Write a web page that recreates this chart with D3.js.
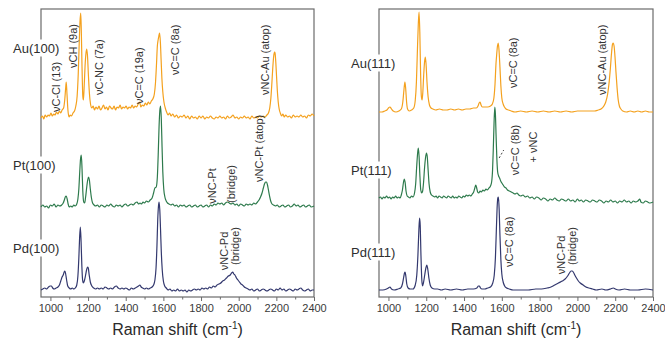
<!DOCTYPE html>
<html>
<head>
<meta charset="utf-8">
<script src="https://cdnjs.cloudflare.com/ajax/libs/d3/7.8.5/d3.min.js"></script>
<style>
  html, body { margin: 0; padding: 0; background: #fff; }
  svg { display: block; }
  svg text { font-family: "Liberation Sans", Arial, Helvetica, sans-serif; }
</style>
</head>
<body>
<svg id="chart" width="665" height="338"></svg>
<script>
// tick values (Raman shift, cm-1)
const xTicks = [1000, 1200, 1400, 1600, 1800, 2000, 2200, 2400];
const minorTicks = [1100, 1300, 1500, 1700, 1900, 2100, 2300];

// sample names per panel
const names100 = ['Au(100)', 'Pt(100)', 'Pd(100)'];
const names111 = ['Au(111)', 'Pt(111)', 'Pd(111)'];

// vertical stacking offsets (intensity units)
const offsets100 = [179, 90, 7];
const offsets111 = [185, 97, 7];

// spectra: [raman shift, intensity above own baseline]
const au100 = [[950,0],[958,2],[965,-1],[972,3],[980,1],[988,3],[995,2],[1003,5],[1010,2],[1018,4],[1025,3],[1032,6],[1040,4],[1048,7],[1055,5],[1062,8],[1070,10],[1076,18],[1081,30],[1084,36],[1088,24],[1093,8],[1099,1],[1105,3],[1112,2],[1120,5],[1128,7],[1135,12],[1142,22],[1148,45],[1153,75],[1157,96],[1161,105],[1164,88],[1168,50],[1172,22],[1175,18],[1179,30],[1184,52],[1189,65],[1193,69],[1197,62],[1202,42],[1207,25],[1213,14],[1220,10],[1227,12],[1234,8],[1242,11],[1250,9],[1258,12],[1266,8],[1274,10],[1282,13],[1290,9],[1298,11],[1306,8],[1314,12],[1322,10],[1330,9],[1338,12],[1346,8],[1354,11],[1362,10],[1370,13],[1378,9],[1386,11],[1394,10],[1402,12],[1410,9],[1418,11],[1426,10],[1434,13],[1442,10],[1450,12],[1458,11],[1466,14],[1474,16],[1480,11],[1488,13],[1496,12],[1504,15],[1512,13],[1520,16],[1528,14],[1536,17],[1544,19],[1552,24],[1558,35],[1563,52],[1568,72],[1572,78],[1576,82],[1580,85],[1584,76],[1588,58],[1592,40],[1597,26],[1603,16],[1610,10],[1617,6],[1625,3],[1633,5],[1641,2],[1650,4],[1660,1],[1670,3],[1680,0],[1690,2],[1700,1],[1710,3],[1720,0],[1730,2],[1740,-1],[1750,2],[1760,0],[1770,1],[1780,-1],[1790,2],[1800,0],[1810,2],[1820,-1],[1830,1],[1840,0],[1850,2],[1860,0],[1870,-1],[1880,1],[1890,0],[1900,2],[1910,0],[1920,1],[1930,-1],[1940,2],[1950,0],[1960,1],[1970,3],[1980,0],[1990,1],[2000,-1],[2010,1],[2020,0],[2030,2],[2040,0],[2050,1],[2060,-1],[2070,2],[2080,0],[2090,1],[2100,0],[2110,2],[2120,1],[2130,2],[2140,1],[2150,3],[2158,5],[2165,10],[2171,20],[2176,34],[2181,50],[2186,62],[2190,66],[2193,65],[2197,56],[2201,42],[2205,28],[2210,16],[2215,9],[2221,5],[2228,2],[2235,4],[2242,1],[2250,3],[2260,1],[2270,2],[2280,0],[2290,3],[2300,1],[2310,2],[2320,1],[2330,3],[2340,1],[2350,2],[2360,0],[2370,3],[2380,2],[2390,4],[2400,2]];

const pt100 = [[950,0],[960,2],[970,0],[980,1],[990,-1],[1000,2],[1010,1],[1020,3],[1030,0],[1040,2],[1050,1],[1060,2],[1068,4],[1074,7],[1079,10],[1084,11],[1089,8],[1094,3],[1100,0],[1108,1],[1116,0],[1124,2],[1132,1],[1140,3],[1146,8],[1151,18],[1156,36],[1160,48],[1164,52],[1168,38],[1172,16],[1177,5],[1182,4],[1187,10],[1193,20],[1198,27],[1203,30],[1207,27],[1212,18],[1218,9],[1224,4],[1232,2],[1240,1],[1250,2],[1260,0],[1270,2],[1280,1],[1290,0],[1300,2],[1310,1],[1320,3],[1330,1],[1340,0],[1350,2],[1360,1],[1370,2],[1380,0],[1390,2],[1400,3],[1410,1],[1420,2],[1430,3],[1440,2],[1450,4],[1460,5],[1468,3],[1476,4],[1484,3],[1492,5],[1500,4],[1510,6],[1520,5],[1530,7],[1540,9],[1548,14],[1555,19],[1562,20],[1568,30],[1573,55],[1577,80],[1581,96],[1585,101],[1589,88],[1593,60],[1597,35],[1602,18],[1608,10],[1615,6],[1622,4],[1630,3],[1640,2],[1650,3],[1660,1],[1670,2],[1680,0],[1690,2],[1700,1],[1710,2],[1720,0],[1730,1],[1740,2],[1750,0],[1760,1],[1770,2],[1780,0],[1790,1],[1800,2],[1810,0],[1820,1],[1830,2],[1840,0],[1850,2],[1860,1],[1870,3],[1880,2],[1890,4],[1900,3],[1910,4],[1920,2],[1930,4],[1940,5],[1950,4],[1960,3],[1970,4],[1980,2],[1990,3],[2000,1],[2010,3],[2020,2],[2030,1],[2040,3],[2050,2],[2060,3],[2070,2],[2080,4],[2090,3],[2100,5],[2108,7],[2116,10],[2124,14],[2131,19],[2137,23],[2143,25],[2148,25],[2153,22],[2158,17],[2164,11],[2170,6],[2177,3],[2185,2],[2195,1],[2205,2],[2215,0],[2225,1],[2235,2],[2245,0],[2255,1],[2265,2],[2275,0],[2285,1],[2295,3],[2305,1],[2315,2],[2325,0],[2335,1],[2345,2],[2355,0],[2365,1],[2375,2],[2385,0],[2400,1]];

const pd100 = [[950,0],[960,1],[970,2],[980,1],[990,3],[998,4],[1005,4],[1012,2],[1020,1],[1030,2],[1040,3],[1048,5],[1055,9],[1062,13],[1068,15],[1073,18],[1077,19],[1081,16],[1086,10],[1092,4],[1100,2],[1108,1],[1116,2],[1124,1],[1132,2],[1140,5],[1146,14],[1151,32],[1155,52],[1159,63],[1163,48],[1167,24],[1171,10],[1175,7],[1180,9],[1186,14],[1192,20],[1197,23],[1201,22],[1206,15],[1212,8],[1220,4],[1230,2],[1240,1],[1250,2],[1260,1],[1270,2],[1280,1],[1290,3],[1300,2],[1310,1],[1320,2],[1330,1],[1340,3],[1350,4],[1360,2],[1370,1],[1380,2],[1390,1],[1400,2],[1410,1],[1420,0],[1430,2],[1440,1],[1450,2],[1460,3],[1468,4],[1475,5],[1482,3],[1490,2],[1500,1],[1510,2],[1520,1],[1530,2],[1540,3],[1548,5],[1555,10],[1561,22],[1566,45],[1570,70],[1574,84],[1577,88],[1581,80],[1585,60],[1589,38],[1594,20],[1600,9],[1607,4],[1615,2],[1625,0],[1635,1],[1645,-1],[1655,0],[1665,-1],[1675,1],[1685,-1],[1695,0],[1705,-1],[1715,0],[1725,-2],[1735,0],[1745,-1],[1755,0],[1765,1],[1775,0],[1785,1],[1795,0],[1805,2],[1815,1],[1825,2],[1835,1],[1845,3],[1855,2],[1865,4],[1875,3],[1885,5],[1895,6],[1905,7],[1915,9],[1925,10],[1935,12],[1945,14],[1955,15],[1962,17],[1968,18],[1974,16],[1980,15],[1988,12],[1996,10],[2004,8],[2012,6],[2020,5],[2030,3],[2040,2],[2050,1],[2060,0],[2070,1],[2080,-1],[2090,0],[2100,1],[2110,-1],[2120,0],[2130,1],[2140,0],[2150,-1],[2160,0],[2170,1],[2180,0],[2190,-1],[2200,1],[2210,0],[2220,2],[2230,0],[2240,1],[2250,-1],[2260,0],[2270,1],[2280,0],[2290,-1],[2300,1],[2310,0],[2320,1],[2330,2],[2340,0],[2350,-1],[2360,0],[2370,1],[2380,-1],[2390,0],[2400,0]];

const au111 = [[950,0],[965,0],[980,1],[992,2],[1000,4],[1008,5],[1016,3],[1025,1],[1040,0],[1055,1],[1068,3],[1076,10],[1082,22],[1087,30],[1091,24],[1096,10],[1101,3],[1110,1],[1122,2],[1134,4],[1142,12],[1148,30],[1153,60],[1158,88],[1162,100],[1166,80],[1170,40],[1174,16],[1178,12],[1182,20],[1186,35],[1191,50],[1195,55],[1199,48],[1204,30],[1210,15],[1217,7],[1225,4],[1235,3],[1250,2],[1270,3],[1290,2],[1310,2],[1330,3],[1350,2],[1370,3],[1390,2],[1410,3],[1430,3],[1450,4],[1465,4],[1474,6],[1480,9],[1485,10],[1490,7],[1497,5],[1510,5],[1525,5],[1540,6],[1550,8],[1558,14],[1564,28],[1569,48],[1573,58],[1577,66],[1581,69],[1585,62],[1590,45],[1595,26],[1600,14],[1607,8],[1614,5],[1622,3],[1635,2],[1650,1],[1670,0],[1700,1],[1730,0],[1760,1],[1790,0],[1820,1],[1850,0],[1880,1],[1910,0],[1940,1],[1970,0],[2000,1],[2030,1],[2060,1],[2090,1],[2110,2],[2125,3],[2140,6],[2150,10],[2160,18],[2168,30],[2175,45],[2181,60],[2186,68],[2190,69],[2194,66],[2199,55],[2204,40],[2210,24],[2216,12],[2222,6],[2230,3],[2240,1],[2260,0],[2280,1],[2300,0],[2320,1],[2340,0],[2360,1],[2380,0],[2400,0]];

const pt111 = [[950,2],[958,3],[966,1],[974,3],[982,2],[990,4],[998,2],[1006,3],[1014,1],[1022,3],[1030,2],[1038,4],[1046,2],[1054,3],[1062,2],[1068,5],[1074,10],[1079,17],[1084,21],[1088,18],[1093,9],[1099,4],[1106,3],[1114,2],[1122,4],[1130,3],[1138,7],[1144,16],[1149,32],[1154,46],[1158,52],[1162,44],[1166,26],[1171,10],[1176,7],[1181,9],[1186,18],[1191,32],[1196,42],[1201,47],[1205,44],[1210,30],[1215,16],[1221,8],[1228,5],[1236,4],[1244,3],[1252,4],[1260,2],[1268,4],[1276,3],[1284,2],[1292,4],[1300,3],[1308,2],[1316,4],[1324,3],[1332,2],[1340,4],[1348,2],[1356,3],[1364,2],[1372,4],[1380,3],[1388,2],[1396,4],[1404,3],[1412,5],[1420,4],[1428,5],[1436,4],[1444,6],[1451,8],[1457,12],[1462,15],[1467,12],[1472,8],[1478,7],[1485,9],[1492,8],[1500,10],[1508,9],[1516,11],[1524,10],[1532,12],[1540,14],[1546,18],[1551,30],[1555,52],[1559,78],[1563,93],[1566,86],[1570,62],[1574,40],[1578,28],[1583,24],[1588,22],[1594,19],[1600,17],[1607,15],[1614,13],[1622,12],[1630,10],[1640,9],[1650,8],[1660,7],[1670,6],[1680,7],[1690,5],[1700,4],[1712,5],[1724,3],[1736,4],[1748,2],[1760,3],[1772,1],[1784,3],[1796,2],[1808,0],[1820,2],[1832,1],[1844,-1],[1856,1],[1868,0],[1880,2],[1892,0],[1904,-1],[1916,1],[1928,0],[1940,-1],[1952,1],[1964,-1],[1976,0],[1988,-2],[2000,1],[2010,-1],[2020,0],[2032,-2],[2044,0],[2056,-1],[2068,-2],[2080,0],[2092,-1],[2104,-2],[2116,0],[2128,-1],[2140,-3],[2152,-1],[2164,-2],[2176,0],[2188,-2],[2200,-1],[2212,-3],[2224,-1],[2236,-2],[2248,0],[2260,-2],[2272,-1],[2284,-3],[2296,-1],[2308,-2],[2320,-1],[2330,1],[2336,-2],[2348,-3],[2360,-1],[2372,-2],[2384,-3],[2400,-2]];

const pd111 = [[950,0],[970,0],[990,1],[1000,2],[1008,3],[1016,1],[1030,0],[1050,1],[1065,2],[1074,6],[1080,12],[1085,17],[1088,18],[1092,14],[1097,6],[1104,2],[1115,1],[1130,1],[1142,5],[1150,15],[1156,35],[1161,60],[1165,72],[1168,65],[1172,35],[1176,12],[1180,4],[1185,7],[1192,15],[1198,22],[1203,25],[1208,21],[1214,12],[1221,5],[1230,2],[1245,1],[1260,1],[1280,0],[1300,1],[1330,0],[1360,1],[1390,0],[1420,1],[1450,1],[1468,2],[1476,4],[1481,4],[1487,2],[1495,1],[1510,1],[1525,2],[1540,3],[1552,7],[1560,15],[1566,32],[1571,60],[1575,82],[1579,92],[1582,93],[1586,80],[1590,55],[1595,30],[1600,16],[1607,8],[1615,4],[1625,2],[1640,1],[1660,0],[1700,0],[1740,0],[1780,1],[1810,1],[1840,2],[1860,3],[1880,5],[1900,7],[1920,9],[1935,11],[1948,14],[1958,17],[1966,19],[1972,19],[1978,18],[1986,15],[1995,12],[2005,9],[2015,7],[2030,5],[2045,3],[2060,2],[2080,1],[2100,0],[2130,1],[2150,0],[2175,1],[2190,2],[2200,1],[2220,0],[2250,1],[2280,0],[2320,0],[2360,1],[2400,0]];

const colors = ['#f4a11e', '#2d7a4c', '#33386e'];

// band assignments: text, shift (cm-1), height (intensity units), anchor
const notes100 = [
  { t: 'νC-Cl (13)', x: 1030, y: 185, a: 'start' },
  { t: 'νCH (9a)', x: 1120, y: 229, a: 'start' },
  { t: 'νC-NC (7a)', x: 1258, y: 202, a: 'start' },
  { t: 'νC=C (19a)', x: 1468, y: 193, a: 'start' },
  { t: 'νC=C (8a)', x: 1660, y: 222, a: 'start' },
  { t: 'νNC-Au (atop)', x: 2140, y: 202, a: 'start' },
  { t: 'νNC-Pt', x: 1858, y: 111, a: 'middle' },
  { t: '(bridge)', x: 1959, y: 113, a: 'middle' },
  { t: 'νNC-Pt (atop)', x: 2108, y: 115, a: 'start' },
  { t: 'νNC-Pd', x: 1922, y: 46, a: 'middle' },
  { t: '(bridge)', x: 1980, y: 51, a: 'middle' }
];
const notes111 = [
  { t: 'νC=C (8a)', x: 1659, y: 209, a: 'start' },
  { t: 'νNC-Au (atop)', x: 2130, y: 202, a: 'start' },
  { t: 'νC=C (8b)', x: 1670, y: 147, a: 'middle' },
  { t: '+ νNC', x: 1765, y: 150, a: 'middle' },
  { t: 'νC=C (8a)', x: 1640, y: 30, a: 'start' },
  { t: 'νNC-Pd', x: 1912, y: 42, a: 'middle' },
  { t: '(bridge)', x: 1970, y: 51, a: 'middle' }
];

const svg = d3.select('#chart');
const plotTop = 9, plotBottom = 297;
const font = '"Liberation Sans", Arial, Helvetica, sans-serif';
const y = d3.scaleLinear().domain([0, 288]).range([plotBottom, plotTop]);

function drawPanel(x0, x1, series, offsets, names, nameY, notes) {
  const x = d3.scaleLinear().domain([950, 2400]).range([x0, x1]);
  const g = svg.append('g');

  // frame
  g.append('rect')
    .attr('x', x0).attr('y', plotTop)
    .attr('width', x1 - x0).attr('height', plotBottom - plotTop)
    .attr('fill', 'none').attr('stroke', '#6b6b6b').attr('stroke-width', 1.2);

  // bottom axis, major + minor ticks
  const ax = g.append('g').attr('transform', `translate(0,${plotBottom})`)
    .call(d3.axisBottom(x).tickValues(xTicks).tickFormat(d3.format('d'))
      .tickSize(4).tickSizeOuter(0).tickPadding(3));
  ax.select('.domain').remove();
  ax.selectAll('line').attr('stroke', '#6b6b6b');
  ax.selectAll('text').attr('fill', '#3a3a3a').style('font-size', '11px')
    .style('font-family', font);
  const mx = g.append('g').attr('transform', `translate(0,${plotBottom})`)
    .call(d3.axisBottom(x).tickValues(minorTicks).tickSize(2.5).tickFormat(''));
  mx.select('.domain').remove();
  mx.selectAll('line').attr('stroke', '#6b6b6b');

  // axis title
  const title = g.append('text')
    .attr('x', (x0 + x1) / 2).attr('y', 335)
    .attr('text-anchor', 'middle')
    .style('font-size', '16px').style('font-family', font).attr('fill', '#2a2a2a');
  title.append('tspan').text('Raman shift (cm');
  title.append('tspan').text('-1').attr('dy', -6).style('font-size', '10px');
  title.append('tspan').text(')').attr('dy', 6);

  // spectra
  series.forEach((s, i) => {
    const line = d3.line()
      .x(d => x(d[0]))
      .y(d => y(d[1] + offsets[i]))
      .curve(d3.curveMonotoneX);
    g.append('path').datum(s)
      .attr('d', line)
      .attr('fill', 'none')
      .attr('stroke', colors[i])
      .attr('stroke-width', 1.2)
      .attr('stroke-linejoin', 'round');
  });

  // band labels
  notes.forEach(n => {
    g.append('text')
      .attr('transform', `translate(${x(n.x) + 4},${y(n.y)}) rotate(-90)`)
      .attr('text-anchor', n.a)
      .style('font-size', '11px').style('font-family', font).attr('fill', '#333')
      .text(n.t);
  });

  // sample labels over the left axis
  names.forEach((nm, i) => {
    const t = g.append('text')
      .attr('x', x0 - 28).attr('y', nameY[i] + 4.5)
      .style('font-size', '13px').style('font-family', font).attr('fill', '#2e2e2e')
      .text(nm);
    const b = t.node().getBBox();
    g.insert('rect', () => t.node())
      .attr('x', b.x - 1).attr('y', b.y - 1)
      .attr('width', b.width + 2).attr('height', b.height + 2)
      .attr('fill', '#fff');
  });

  return x;
}

drawPanel(41, 314, [au100, pt100, pd100], offsets100, names100, [48, 165, 248], notes100);
const xr = drawPanel(379, 653, [au111, pt111, pd111], offsets111, names111, [63, 170, 252], notes111);

// leader from the Pt(111) band to its label
svg.append('line')
  .attr('x1', xr(1570) + 3).attr('y1', y(139))
  .attr('x2', xr(1610)).attr('y2', y(147))
  .attr('stroke', '#444').attr('stroke-width', 1)
  .attr('stroke-dasharray', '2,2');
</script>
</body>
</html>
